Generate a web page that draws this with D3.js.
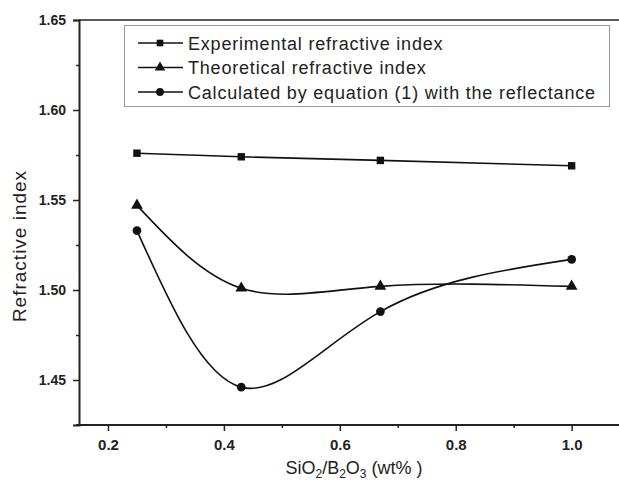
<!DOCTYPE html>
<html><head><meta charset="utf-8">
<script src="https://cdn.jsdelivr.net/npm/d3@7"></script>
<style>body{margin:0;background:#fff}svg{display:block}</style>
</head><body>
<script>
const xValues = [0.25, 0.43, 0.67, 1.0];
const experimental = [1.576, 1.574, 1.572, 1.569];
const theoretical = [1.547, 1.501, 1.502, 1.502];
const calculated = [1.533, 1.446, 1.488, 1.517];
const seriesNames = ["Experimental refractive index", "Theoretical refractive index", "Calculated by equation (1) with the reflectance"];
const seriesSymbols = ["square", "triangle", "circle"];
const xTicks = [0.2, 0.4, 0.6, 0.8, 1.0];
const xMinorTicks = [0.3, 0.5, 0.7, 0.9];
const yTicks = [1.45, 1.50, 1.55, 1.60, 1.65];
const yMinorTicks = [1.475, 1.525, 1.575, 1.625];

const W = 619, H = 482;
const svg = d3.select("body").append("svg").attr("width", W).attr("height", H);
const x = d3.scaleLinear().domain([0.15, 1.0817]).range([79, 619]);
const y = d3.scaleLinear().domain([1.425, 1.65]).range([425, 20]);
const font = "Arial, 'Liberation Sans', sans-serif";

// frame
svg.append("line").attr("x1", x(0.15)).attr("x2", W).attr("y1", y(1.65)).attr("y2", y(1.65)).attr("stroke", "#222").attr("stroke-width", 1.5);

// y axis
const yAxis = d3.axisLeft(y).tickValues(yTicks).tickFormat(d3.format(".2f")).tickSize(6).tickPadding(7);
const gy = svg.append("g").attr("transform", `translate(${x(0.15)},0)`).call(yAxis);
gy.select(".domain").attr("stroke", "#222").attr("stroke-width", 2);
gy.selectAll(".tick line").attr("stroke", "#222").attr("stroke-width", 1.5);
gy.selectAll("text").attr("font-family", font).attr("font-weight", "bold").attr("font-size", 14).attr("fill", "#222");
const gym = svg.append("g").attr("transform", `translate(${x(0.15)},0)`).call(d3.axisLeft(y).tickValues(yMinorTicks).tickSize(3).tickFormat(""));
gym.select(".domain").remove();
gym.selectAll(".tick line").attr("stroke", "#222").attr("stroke-width", 1.5);

// x axis
const xAxis = d3.axisBottom(x).tickValues(xTicks).tickFormat(d3.format(".1f")).tickSize(6).tickPadding(8);
const gx = svg.append("g").attr("transform", `translate(0,${y(1.425)})`).call(xAxis);
gx.select(".domain").attr("stroke", "#222").attr("stroke-width", 2).attr("d", `M${x(0.15)-3},0H${W}`);
gx.selectAll(".tick line").attr("stroke", "#222").attr("stroke-width", 1.5);
gx.selectAll("text").attr("font-family", font).attr("font-weight", "bold").attr("font-size", 15).attr("fill", "#222");
const gxm = svg.append("g").attr("transform", `translate(0,${y(1.425)})`).call(d3.axisBottom(x).tickValues(xMinorTicks).tickSize(3).tickFormat(""));
gxm.select(".domain").remove();
gxm.selectAll(".tick line").attr("stroke", "#222").attr("stroke-width", 1.5);

// axis titles
svg.append("text").attr("transform", `translate(26,246) rotate(-90)`).attr("text-anchor", "middle")
  .attr("font-family", font).attr("font-size", 19).attr("letter-spacing", 1).attr("fill", "#222").text("Refractive index");
const xt = svg.append("text").attr("x", 354).attr("y", 474).attr("text-anchor", "middle")
  .attr("font-family", font).attr("font-size", 18).attr("fill", "#222");
xt.append("tspan").text("SiO");
xt.append("tspan").attr("font-size", 12).attr("dy", 3.5).text("2");
xt.append("tspan").attr("dy", -3.5).text("/B");
xt.append("tspan").attr("font-size", 12).attr("dy", 3.5).text("2");
xt.append("tspan").attr("dy", -3.5).text("O");
xt.append("tspan").attr("font-size", 12).attr("dy", 3.5).text("3");
xt.append("tspan").attr("dy", -3.5).text(" (wt% )");

// series
const allSeries = [experimental, theoretical, calculated];
const line = d3.line().x((d, i) => x(xValues[i])).y(d => y(d)).curve(d3.curveNatural);
const straight = d3.line().x((d, i) => x(xValues[i])).y(d => y(d));
const symbolType = {square: d3.symbolSquare, triangle: d3.symbolTriangle, circle: d3.symbolCircle};
const symbolSize = {square: 55, triangle: 60, circle: 60};
allSeries.forEach((vals, si) => {
  const sym = seriesSymbols[si];
  svg.append("path").attr("d", si === 0 ? straight(vals) : line(vals))
    .attr("fill", "none").attr("stroke", "#111").attr("stroke-width", 1.6);
  svg.selectAll(null).data(vals).enter().append("path")
    .attr("transform", (d, i) => `translate(${x(xValues[i])},${y(d)})`)
    .attr("d", d3.symbol().type(symbolType[sym]).size(symbolSize[sym]))
    .attr("fill", "#111");
});

// legend
const lg = svg.append("g");
lg.append("rect").attr("x", 124.5).attr("y", 25.5).attr("width", 485).attr("height", 81)
  .attr("fill", "#fff").attr("stroke", "#999").attr("stroke-width", 1);
seriesNames.forEach((name, i) => {
  const ly = 43 + i * 24.5;
  lg.append("line").attr("x1", 138).attr("x2", 183).attr("y1", ly).attr("y2", ly).attr("stroke", "#111").attr("stroke-width", 1.6);
  const sym = seriesSymbols[i];
  lg.append("path").attr("transform", `translate(160,${ly})`).attr("d", d3.symbol().type(symbolType[sym]).size(symbolSize[sym] * 0.8)).attr("fill", "#111");
  lg.append("text").attr("x", 188).attr("y", ly + 6.5).attr("font-family", font).attr("font-size", 18)
    .attr("letter-spacing", 0.8).attr("fill", "#222").text(name);
});
</script>
</body></html>
